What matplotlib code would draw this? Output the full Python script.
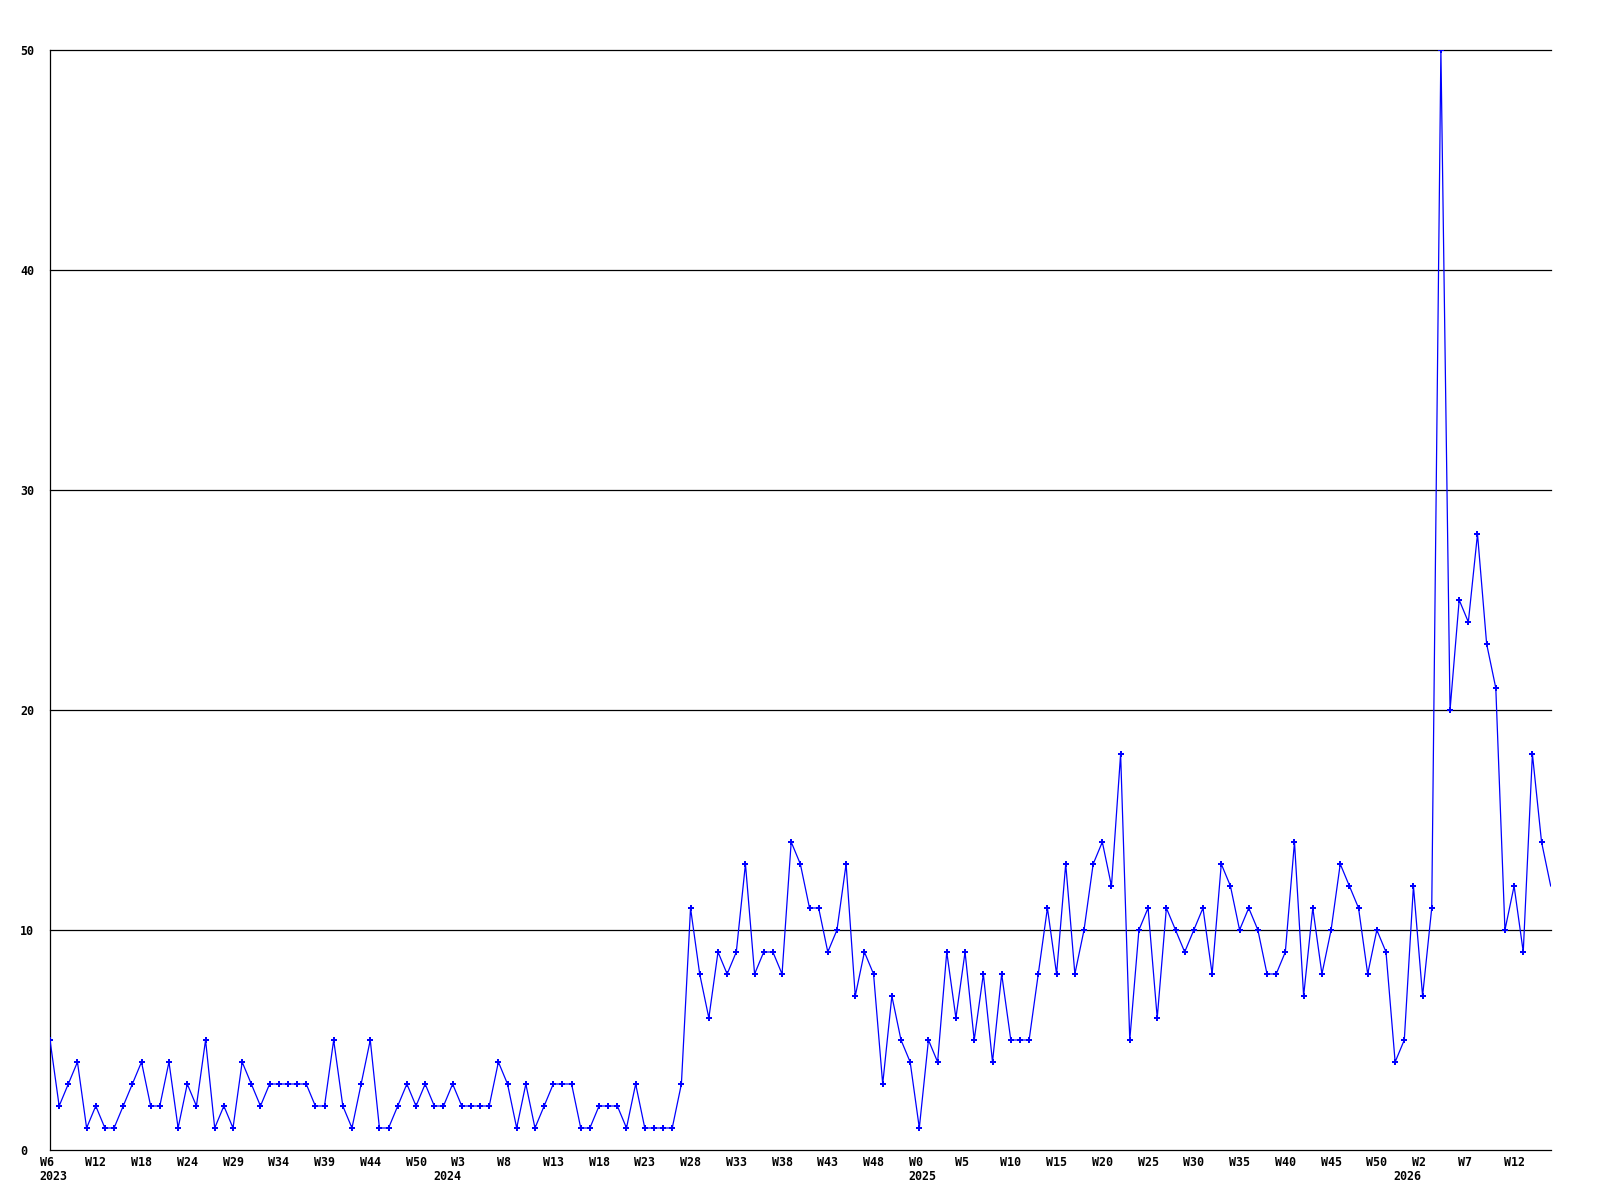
import matplotlib
matplotlib.use("Agg")
import matplotlib.pyplot as plt
from matplotlib.transforms import ScaledTranslation

# weekly counts, 2023 W6 .. 2026 W14
values = [5, 2, 3, 4, 1, 2, 1, 1, 2, 3, 4, 2, 2, 4, 1, 3, 2, 5, 1, 2,
          1, 4, 3, 2, 3, 3, 3, 3, 3, 2, 2, 5, 2, 1, 3, 5, 1, 1, 2,
          3, 2, 3, 2, 2, 3, 2, 2, 2, 2, 4, 3, 1, 3, 1, 2, 3, 3, 3, 1,
          1, 2, 2, 2, 1, 3, 1, 1, 1, 1, 3,
          11, 8, 6, 9, 8, 9, 13, 8,
          9, 9, 8, 14, 13, 11, 11, 9, 10, 13, 7, 9, 8, 3, 7, 5, 4, 1,
          5, 4, 9, 6, 9, 5, 8, 4, 8, 5, 5, 5, 8, 11, 8, 13, 8, 10, 13,
          14, 12, 18, 5, 10, 11, 6, 11, 10,
          9, 10, 11, 8, 13, 12, 10, 11, 10, 8, 8, 9, 14, 7, 11, 8, 10,
          13, 12, 11, 8, 10, 9, 4, 5, 12, 7, 11,
          50, 20, 25, 24, 28, 23, 21, 10, 12, 9, 18, 14, 12]

week_labels = ["W6", "W12", "W18", "W24", "W29", "W34", "W39", "W44", "W50",
               "W3", "W8", "W13", "W18", "W23", "W28", "W33", "W38", "W43",
               "W48", "W0", "W5", "W10", "W15", "W20", "W25", "W30", "W35",
               "W40", "W45", "W50", "W2", "W7", "W12"]
week_pos = list(range(0, 5 * len(week_labels), 5))

year_labels = ["2023", "2024", "2025", "2026"]
year_pos = [0, 43, 95, 148]

y_ticks = [0, 10, 20, 30, 40, 50]

FONT = {"family": "DejaVu Sans Mono", "weight": "bold", "size": 8.4}

fig = plt.figure(figsize=(16, 12), dpi=100)
ax = fig.add_axes([50 / 1600, 50 / 1200, 1500.7 / 1600, 1100 / 1200])

x = list(range(len(values)))
ax.plot(x, values, color="#0000ff", lw=0.9, marker="P", ms=4.0,
        markeredgewidth=0, markerfacecolor="#0000ff",
        markevery=list(range(len(values) - 1)), clip_on=True, zorder=3)

ax.set_xlim(0, len(values) - 1)
ax.set_ylim(0, 50)

for v in y_ticks[1:]:
    ax.axhline(v, color="black", lw=0.9, zorder=1, clip_on=False)

for side in ["top", "right"]:
    ax.spines[side].set_visible(False)
for side in ["left", "bottom"]:
    ax.spines[side].set_color("black")
    ax.spines[side].set_linewidth(0.9)

ax.set_yticks(y_ticks)
ax.set_yticklabels([str(v) for v in y_ticks], fontdict=FONT, ha="left")
ax.tick_params(axis="y", length=0, pad=30 * 0.72)

ax.set_xticks(week_pos)
ax.set_xticklabels(week_labels, fontdict=FONT, ha="left", va="center")
ax.tick_params(axis="x", length=0, pad=12 * 0.72)
off = ScaledTranslation(-10.5 / 100, 0, fig.dpi_scale_trans)
for lab in ax.get_xticklabels():
    lab.set_transform(lab.get_transform() + off)

for lab, p in zip(year_labels, year_pos):
    ax.annotate(lab, xy=(p, 0), xycoords=("data", "axes fraction"),
                xytext=(-10.5, -27), textcoords="offset pixels",
                ha="left", va="center", **FONT, annotation_clip=False)

fig.savefig("out.png", dpi=100, facecolor="white")
